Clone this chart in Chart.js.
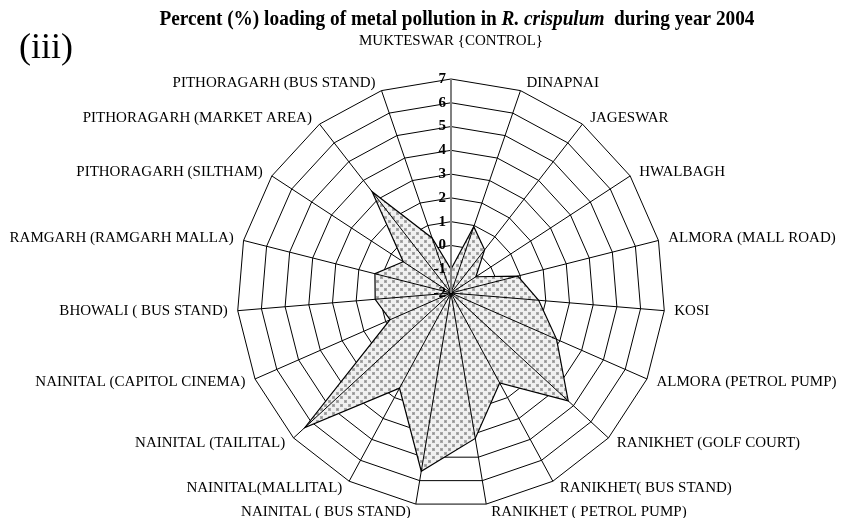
<!DOCTYPE html>
<html>
<head>
<meta charset="utf-8">
<script src="https://cdn.jsdelivr.net/npm/chart.js@4.4.1/dist/chart.umd.min.js"></script>
<style>
  html, body { margin: 0; padding: 0; background: #fff; }
  #wrap { width: 844px; height: 518px; }
</style>
</head>
<body>
<div id="wrap"><canvas id="radar" width="844" height="518"></canvas></div>
<script>
// sites, clockwise from the top
const sites = [
    "MUKTESWAR {CONTROL}", "DINAPNAI", "JAGESWAR", "HWALBAGH", "ALMORA (MALL ROAD)",
    "KOSI", "ALMORA (PETROL PUMP)", "RANIKHET (GOLF COURT)", "RANIKHET( BUS STAND)",
    "RANIKHET ( PETROL PUMP)", "NAINITAL ( BUS STAND)", "NAINITAL(MALLITAL)",
    "NAINITAL (TAILITAL)", "NAINITAL (CAPITOL CINEMA)", "BHOWALI ( BUS STAND)",
    "RAMGARH (RAMGARH MALLA)", "PITHORAGARH (SILTHAM)", "PITHORAGARH (MARKET AREA)",
    "PITHORAGARH (BUS STAND)"
];
// percent loading
const loading = [
    -1.0, 0.95, 0.3, -0.75, 0.9,
    1.7, 2.85, 4.7, 2.3,
    4.2, 5.6, 2.55,
    6.35, 0.8, 1.2,
    1.3, 0.4, 3.4,
    0.45
];
const tickValues = [-2, -1, 0, 1, 2, 3, 4, 5, 6, 7];

const titleParts = [
    { text: "Percent (%) loading of metal pollution in ", style: "bold" },
    { text: "R. crispulum", style: "italic bold" },
    { text: "  during year 2004", style: "bold" }
];
const panelLabel = "(iii)";

// stippled fill like the old excel pattern
function makeStipple() {
    const tile = document.createElement("canvas");
    tile.width = 8;
    tile.height = 8;
    const t = tile.getContext("2d");
    t.fillStyle = "#f0f0f0";
    t.fillRect(0, 0, 8, 8);
    t.fillStyle = "#a8a8a8";
    t.fillRect(0, 0, 3, 3);
    t.fillRect(4, 4, 3, 3);
    t.fillStyle = "#8e8e8e";
    t.fillRect(1, 1, 1, 1);
    t.fillRect(5, 5, 1, 1);
    return t.createPattern(tile, "repeat");
}

// spokes go over the fill, rings stay under it
const spokesOnTop = {
    id: "spokesOnTop",
    afterDatasetsDraw(chart) {
        const ctx = chart.ctx;
        const scale = chart.scales.r;
        const outer = scale.getDistanceFromCenterForValue(scale.max);
        ctx.save();
        for (let i = sites.length - 1; i >= 0; i--) {
            const p = scale.getPointPosition(i, outer);
            ctx.beginPath();
            ctx.strokeStyle = i === 0 ? "#808080" : "#000";
            ctx.lineWidth = i === 0 ? 2 : 1;
            ctx.moveTo(scale.xCenter, scale.yCenter);
            ctx.lineTo(p.x, p.y);
            ctx.stroke();
        }
        ctx.restore();
    }
};

const extraText = {
    id: "extraText",
    afterDraw(chart) {
        const ctx = chart.ctx;
        const scale = chart.scales.r;
        const R = scale.drawingArea;
        ctx.save();
        ctx.fillStyle = "#000";

        // site names around the web
        ctx.font = "15px 'Liberation Serif'";
        ctx.textBaseline = "middle";
        sites.forEach((name, i) => {
            const a = scale.getIndexAngle(i);
            const s = Math.sin(a), c = Math.cos(a);
            const p = scale.getPointPosition(i, R);
            let x = p.x, y = p.y;
            if (Math.abs(s) < 0.05) {
                ctx.textAlign = "center";
            } else {
                ctx.textAlign = s > 0 ? "left" : "right";
                x += (s > 0 ? 1 : -1) * (4 + 6 * Math.abs(s));
            }
            const gap = i === 0 ? 38 : 8;
            y -= gap * c;
            ctx.fillText(name, x, y);
        });

        // value labels along the top axis
        ctx.font = "bold 15px 'Liberation Serif'";
        ctx.textAlign = "right";
        tickValues.forEach(v => {
            const d = scale.getDistanceFromCenterForValue(v);
            ctx.fillText(String(v), scale.xCenter - 5, scale.yCenter - d);
        });

        // title with the italic species name, squeezed like the original
        ctx.textAlign = "left";
        ctx.textBaseline = "alphabetic";
        const size = 22;
        let total = 0;
        titleParts.forEach(p => {
            ctx.font = `${p.style} ${size}px 'Liberation Serif'`;
            total += ctx.measureText(p.text).width;
        });
        const squeeze = 595 / total;
        ctx.save();
        ctx.translate(457 - 595 / 2, 25);
        ctx.scale(squeeze, 1);
        let x = 0;
        titleParts.forEach(p => {
            ctx.font = `${p.style} ${size}px 'Liberation Serif'`;
            ctx.fillText(p.text, x, 0);
            x += ctx.measureText(p.text).width;
        });
        ctx.restore();

        ctx.font = "36px 'Liberation Serif'";
        ctx.fillText(panelLabel, 19, 58);
        ctx.restore();
    }
};

const ctx = document.getElementById("radar");

new Chart(ctx, {
    type: "radar",
    data: {
        labels: sites,
        datasets: [{
            data: loading,
            backgroundColor: makeStipple(),
            borderColor: "#000",
            borderWidth: 1.2,
            pointRadius: 0,
            fill: "start"
        }]
    },
    options: {
        responsive: false,
        animation: false,
        layout: { padding: { top: 79, bottom: 11, left: 237, right: 179 } },
        plugins: {
            legend: { display: false },
            tooltip: { enabled: false },
            title: { display: false }
        },
        scales: {
            r: {
                min: -2,
                max: 7,
                ticks: { display: false, stepSize: 1 },
                grid: { color: "#000", lineWidth: 1 },
                angleLines: { display: false },
                pointLabels: { display: false }
            }
        }
    },
    plugins: [spokesOnTop, extraText]
});
</script>
</body>
</html>
